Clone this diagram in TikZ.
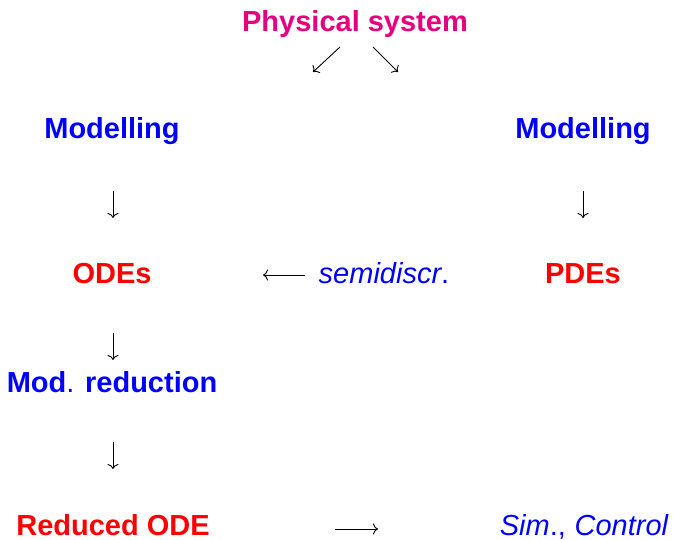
\documentclass[tikz,border=0pt]{standalone}
\usepackage{fontspec}
\setmainfont{Liberation Sans}
\usetikzlibrary{arrows.meta}
\definecolor{titlemag}{RGB}{230,0,126}
\definecolor{stageblue}{RGB}{0,0,255}
\definecolor{eqred}{RGB}{255,0,0}
\tikzset{
  lbl/.style={inner sep=0pt, anchor=base, font=\fontsize{29}{34}\selectfont\bfseries},
  titlelbl/.style={lbl, text=titlemag},
  stagelbl/.style={lbl, text=stageblue},
  eqlbl/.style={lbl, text=eqred},
  notelbl/.style={inner sep=0pt, anchor=base, font=\fontsize{29}{34}\selectfont\itshape, text=stageblue},
  flow/.style={-{To[length=5pt,width=11pt]}, line width=0.9pt, black}
}
\begin{document}
\begin{tikzpicture}[x=1pt, y=-1pt]
  \useasboundingbox (0,0) rectangle (673,539);
  \fill[white] (0,0) rectangle (673,539);

  % labels, placed on their baselines
  \node[titlelbl] (phys) at (355,31) {Physical system};
  \node[stagelbl] (modl) at (112,138) {Modelling};
  \node[stagelbl] (modr) at (583,138) {Modelling};
  \node[eqlbl] (odes) at (112,283) {ODEs};
  \node[notelbl] (semi) at (384,283) {semidiscr\textup{.}};
  \node[eqlbl] (pdes) at (583,283) {PDEs};
  \node[stagelbl] (modred) at (112,392) {Mod{\mdseries.} reduction};
  \node[eqlbl] (redode) at (113,535) {Reduced ODE};
  \node[notelbl] (simctl) at (584,535) {Sim\textup{.,}\hspace{0.3em}Control};

  % arrow end points
  \coordinate (swA) at (340,47);  \coordinate (swB) at (313,72);
  \coordinate (seA) at (373,47);  \coordinate (seB) at (398,72);
  \coordinate (dlA) at (113,191); \coordinate (dlB) at (113,218);
  \coordinate (drA) at (583,191); \coordinate (drB) at (583,218);
  \coordinate (dmA) at (113,333); \coordinate (dmB) at (113,360);
  \coordinate (dbA) at (113,442); \coordinate (dbB) at (113,469);
  \coordinate (ltA) at (305,275); \coordinate (ltB) at (263,275);
  \coordinate (rtA) at (335,529); \coordinate (rtB) at (378,529);

  \draw[flow] (swA) -- (swB);
  \draw[flow] (seA) -- (seB);
  \draw[flow] (dlA) -- (dlB);
  \draw[flow] (drA) -- (drB);
  \draw[flow] (dmA) -- (dmB);
  \draw[flow] (dbA) -- (dbB);
  \draw[flow] (ltA) -- (ltB);
  \draw[flow] (rtA) -- (rtB);
\end{tikzpicture}
\end{document}
